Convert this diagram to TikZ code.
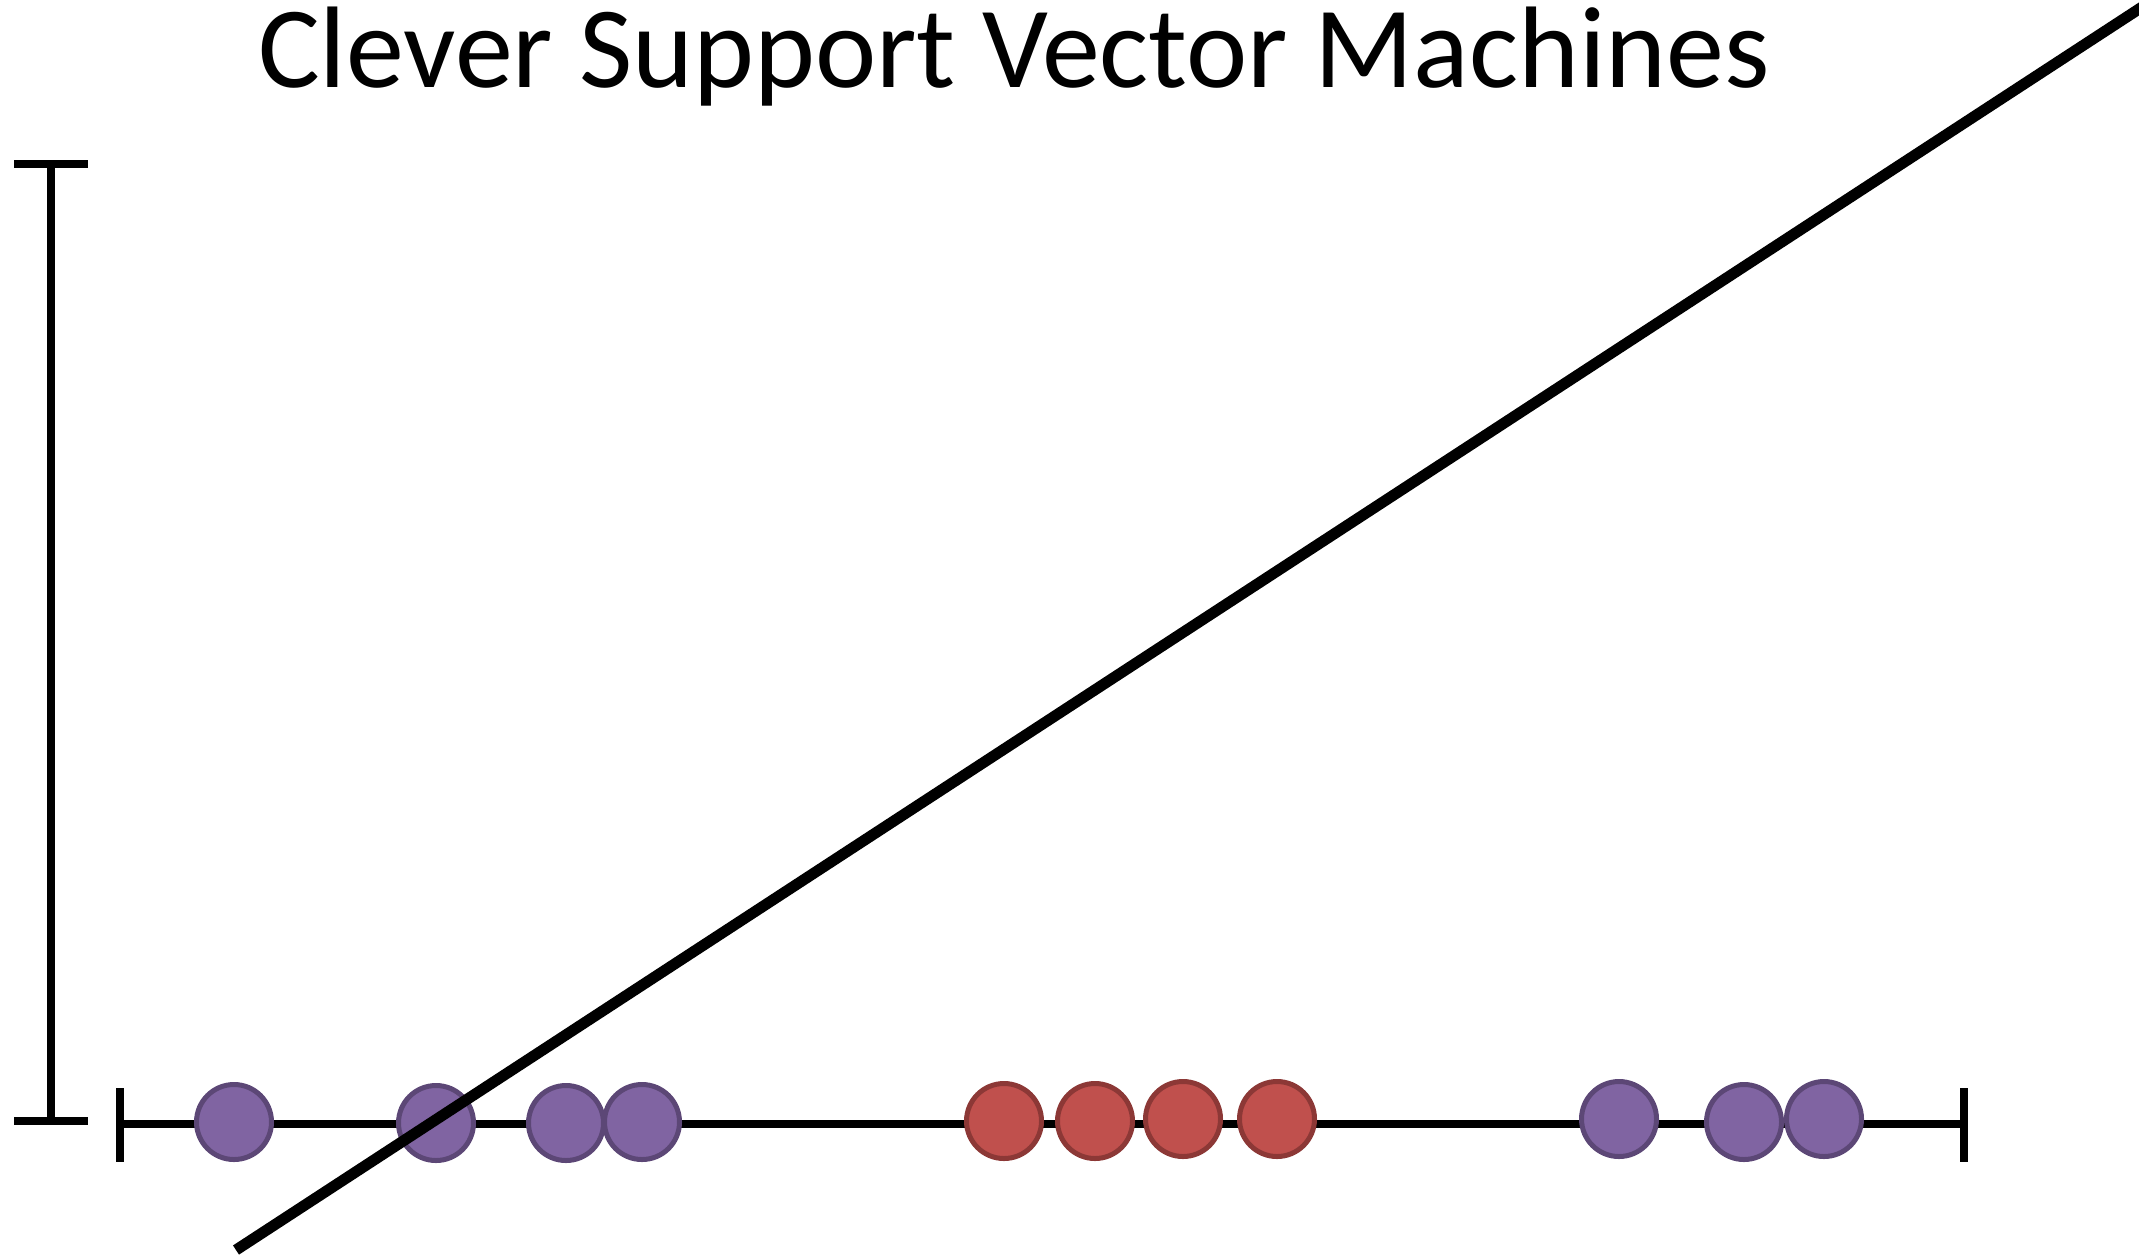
\documentclass[tikz,border=0pt]{standalone}
\usepackage{fontspec}
\setmainfont{Carlito}
\definecolor{pfill}{HTML}{8064A2}
\definecolor{pdraw}{HTML}{5C4776}
\definecolor{rfill}{HTML}{C0504D}
\definecolor{rdraw}{HTML}{8C3836}
\begin{document}
\begin{tikzpicture}[x=0.5pt,y=-0.5pt,
  axisline/.style={line width=4pt, black},
  pdot/.style={circle, fill=pfill, draw=pdraw, line width=2.5pt, minimum size=37.5pt, inner sep=0pt},
  rdot/.style={circle, fill=rfill, draw=rdraw, line width=2.5pt, minimum size=37.5pt, inner sep=0pt},
  sepline/.style={line width=5.5pt, black}]
\useasboundingbox (0,0) rectangle (2139,1254);
% title
\node[anchor=base, inner sep=0pt, text height=39pt, text depth=10pt, font=\fontsize{58}{70}\selectfont] (title) at (1014,87) {Clever Support Vector Machines};
\clip (0,0) rectangle (2139,1254);
% vertical bar
\coordinate (vtop) at (51,164);
\coordinate (vbot) at (51,1121);
\draw[axisline] (vtop) -- (vbot);
\draw[axisline] (14,164) -- (88,164);
\draw[axisline] (14,1121) -- (88,1121);
% horizontal axis
\coordinate (hleft) at (120,1124);
\coordinate (hright) at (1964,1124);
\draw[axisline] (hleft) -- (hright);
\draw[axisline] (120,1088) -- (120,1162);
\draw[axisline] (1964,1088) -- (1964,1162);
% points
\node[pdot] (p1) at (234,1122) {};
\node[pdot] (p2) at (436,1123) {};
\node[pdot] (p3) at (566,1123) {};
\node[pdot] (p4) at (642,1122) {};
\node[rdot] (r1) at (1004,1121) {};
\node[rdot] (r2) at (1095,1121) {};
\node[rdot] (r3) at (1183,1119) {};
\node[rdot] (r4) at (1277,1119) {};
\node[pdot] (p5) at (1619,1119) {};
\node[pdot] (p6) at (1744,1122) {};
\node[pdot] (p7) at (1824,1119) {};
% separating line
\coordinate (dstart) at (236,1250);
\coordinate (dend) at (2200,-30.8);
\draw[sepline] (dstart) -- (dend);
\end{tikzpicture}
\end{document}
